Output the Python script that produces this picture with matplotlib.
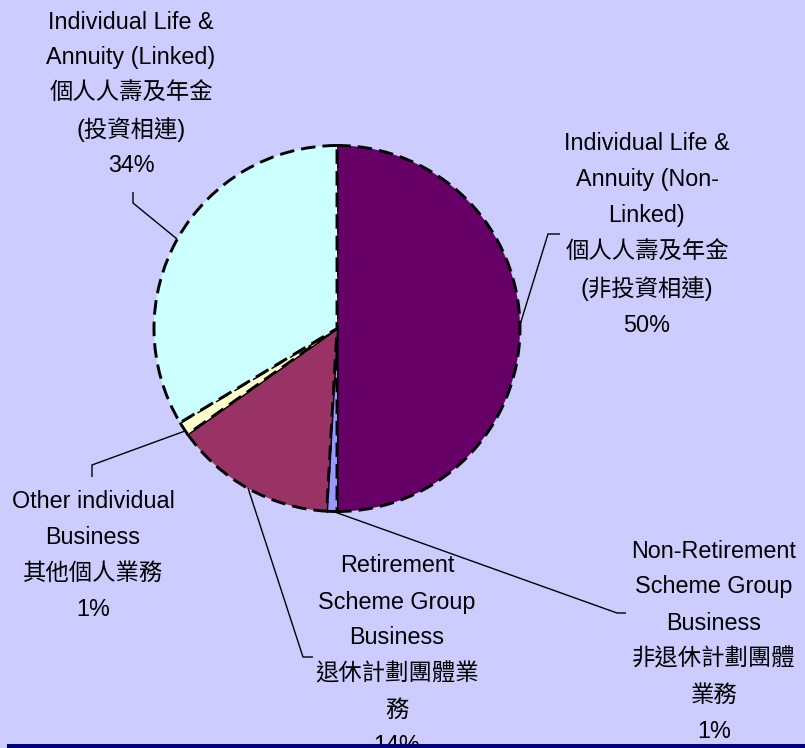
import matplotlib
matplotlib.use("Agg")
import matplotlib.pyplot as plt
from matplotlib.patches import Rectangle

plt.rcParams['font.family'] = ['Liberation Sans', 'Noto Sans CJK TC', 'DejaVu Sans']

# Data (clockwise from top)
categories = ["Individual Life & Annuity (Non-Linked)",
              "Non-Retirement Scheme Group Business",
              "Retirement Scheme Group Business",
              "Other individual Business",
              "Individual Life & Annuity (Linked)"]
values = [50.0, 0.9, 14.3, 1.2, 33.6]
colors = ["#660066", "#9999FF", "#993366", "#FFFFCC", "#CCFFFF"]

label_lines = [
    ["Individual Life &", "Annuity (Non-", "Linked)", "個人人壽及年金", "(非投資相連)", "50%"],
    ["Non-Retirement", "Scheme Group", "Business", "非退休計劃團體", "業務", "1%"],
    ["Retirement", "Scheme Group", "Business", "退休計劃團體業", "務", "14%"],
    ["Other individual", "Business", "其他個人業務", "1%"],
    ["Individual Life &", "Annuity (Linked)", "個人人壽及年金", "(投資相連)", "34%"],
]

W, H = 805, 748
fig = plt.figure(figsize=(W / 100, H / 100), dpi=100)
fig.patch.set_facecolor("#CCCCFF")
ax = fig.add_axes([0, 0, 1, 1])
ax.set_xlim(0, W)
ax.set_ylim(0, H)
ax.set_aspect("equal")
ax.axis("off")

def Y(y):
    return H - y

cx, cy, r = 337.0, 328.5, 183.0
wedges, _ = ax.pie(values, colors=colors, startangle=90, counterclock=False,
                   center=(cx, Y(cy)), radius=r, frame=True,
                   wedgeprops=dict(edgecolor="black", linewidth=2.1,
                                   linestyle=(0, (5, 2.4))))
ax.set_xlim(0, W)
ax.set_ylim(0, H)
ax.axis("off")

# label layout: (center x, first line y, line spacing) in image pixels
layout = [
    (647, 143, 36.4),
    (714, 551, 36.0),
    (397, 566, 36.0),
    (93, 502, 35.7),
    (131, 22, 35.8),
]
# leader line paths in image pixels
leaders = [
    [(519, 328), (548, 234), (560, 234)],
    [(332, 511), (617, 613), (626, 613)],
    [(248, 488), (303, 657), (313, 657)],
    [(185, 431), (92, 465), (92, 477)],
    [(177, 239), (133, 203), (133, 192)],
]

def has_cjk(s):
    return any(ord(c) > 0x2E80 for c in s)

for lines, (x, y0, dy) in zip(label_lines, layout):
    for i, t in enumerate(lines):
        ax.text(x, Y(y0 + i * dy), t, ha="center", va="center",
                fontsize=16.8, color="black", zorder=5)

for path in leaders:
    xs = [p[0] for p in path]
    ys = [Y(p[1]) for p in path]
    ax.plot(xs, ys, color="black", linewidth=1.0, zorder=4,
            solid_capstyle="butt", solid_joinstyle="miter")

# bottom bar
ax.add_patch(Rectangle((7, 0), W - 7, 3.8, facecolor="#000080",
                       edgecolor="none", zorder=10, clip_on=False))

fig.savefig("out.png", dpi=100, facecolor=fig.get_facecolor())
